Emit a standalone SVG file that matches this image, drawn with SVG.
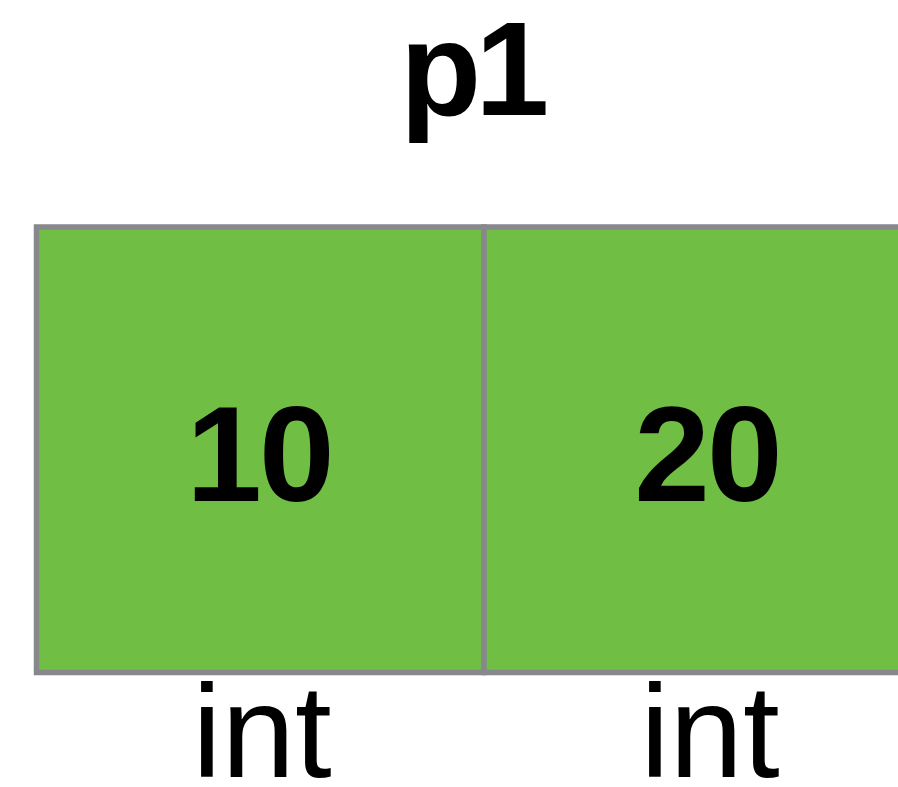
<svg xmlns="http://www.w3.org/2000/svg" width="898" height="787" viewBox="0 0 898 787">
  <style>
    .cell { fill: #70bf44; stroke: #87888c; stroke-width: 5.5; }
    .title { font-family: "Liberation Sans", Arial, sans-serif; font-weight: bold; font-size: 133px; fill: #000; letter-spacing: -6px; }
    .val { font-family: "Liberation Sans", Arial, sans-serif; font-weight: bold; font-size: 136px; fill: #000; text-anchor: middle; letter-spacing: -3px; }
    .type { font-family: "Liberation Sans", Arial, sans-serif; font-weight: normal; font-size: 132px; fill: #000; text-anchor: middle; }
  </style>
  <rect width="898" height="787" fill="#ffffff"/>
  <text id="title" class="title" x="400" y="115">p1</text>
  <g id="field-x">
    <rect class="cell" x="36.5" y="227" width="447.5" height="445.5"/>
    <text class="val" x="259" y="501">10</text>
    <text class="type" x="262" y="777">int</text>
  </g>
  <g id="field-y">
    <rect class="cell" x="484" y="227" width="448" height="445.5"/>
    <text class="val" x="707" y="501">20</text>
    <text class="type" x="710" y="777">int</text>
  </g>
  <g id="connectors"></g>
</svg>
